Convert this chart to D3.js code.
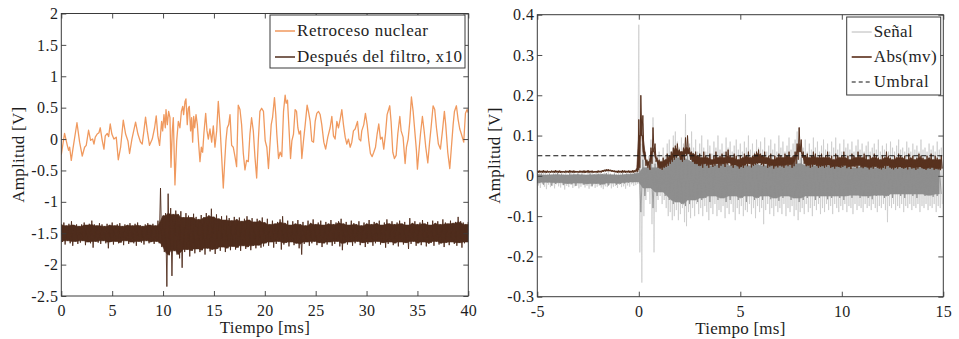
<!DOCTYPE html>
<html>
<head>
<meta charset="utf-8">
<script src="https://cdn.jsdelivr.net/npm/d3@7"></script>
<style>
  body { margin: 0; background: #fff; }
  svg { display: block; }
  text { font-family: "Liberation Serif", "Times New Roman", serif; fill: #1e1e1e; }
</style>
</head>
<body>
<svg id="chart" width="959" height="339"></svg>
<script>
// ---------- Left panel: recoil signal and filtered trace (x10) ----------
const leftXTicks = [0, 5, 10, 15, 20, 25, 30, 35, 40];
const leftYTicks = [-2.5, -2, -1.5, -1, -0.5, 0, 0.5, 1, 1.5, 2];

// Retroceso nuclear: time [ms] / amplitude [V] at the turning points
const recoilT = [0.00,0.32,0.59,0.72,0.82,0.98,1.14,1.54,1.80,2.06,2.29,2.45,2.68,2.88,3.08,3.21,3.34,3.53,3.70,3.83,4.02,4.19,4.32,4.52,4.65,4.81,4.97,5.17,5.40,5.60,5.83,6.09,6.32,6.55,6.71,6.94,7.30,7.53,7.79,7.95,8.12,8.28,8.45,8.67,8.94,9.17,9.33,9.49,9.66,
  9.86,9.96,10.09,10.22,10.29,10.42,10.55,10.68,10.78,10.91,11.01,11.17,11.34,11.50,11.66,11.80,11.93,12.02,12.16,12.25,12.38,12.48,12.58,12.71,12.81,12.91,13.01,13.11,13.24,13.37,13.50,13.63,13.76,13.89,14.02,14.19,14.32,14.45,14.61,14.78,14.94,15.10,15.27,15.43,15.59,15.76,15.92,16.05,16.18,16.31,16.45,16.58,16.74,16.90,17.07,17.23,17.39,17.56,17.72,17.89,18.05,18.21,18.38,18.54,18.70,18.87,19.03,19.20,19.36,19.52,19.69,
  19.87,20.04,20.20,20.36,20.63,20.76,20.95,21.08,21.18,21.35,21.51,21.67,21.84,22.00,22.10,22.23,22.39,22.53,22.66,22.82,22.98,23.12,23.25,23.38,23.51,23.64,23.80,23.97,24.16,24.29,24.46,24.62,24.79,24.95,25.11,25.28,25.44,25.60,25.80,25.98,26.19,26.42,26.59,26.75,26.91,27.08,27.24,27.40,27.57,27.73,27.90,28.06,28.22,28.39,28.55,28.71,28.88,29.11,29.27,29.43,29.53,
  29.73,29.89,30.06,30.22,30.38,30.55,30.71,30.88,31.04,31.20,31.37,31.53,31.69,31.86,32.02,32.28,32.41,32.58,32.74,32.91,33.07,33.27,33.40,33.59,33.79,33.92,34.09,34.25,34.41,34.58,34.74,34.90,35.00,35.13,35.30,35.49,35.66,35.82,36.02,36.18,36.34,36.54,36.70,36.87,37.06,37.26,37.46,37.65,37.78,37.98,38.18,38.34,38.51,38.64,38.83,39.00,39.16,39.32,39.55,39.72,39.88,40.00];
const recoilV = [-0.25,0.09,-0.10,-0.18,-0.13,-0.34,-0.16,0.26,-0.05,-0.27,-0.13,-0.10,0.14,-0.02,0.00,-0.08,0.03,0.08,0.10,0.18,-0.02,-0.16,0.05,0.09,0.04,0.24,0.08,0.00,0.03,-0.33,-0.13,0.30,0.08,-0.03,-0.23,0.00,0.27,0.08,-0.05,-0.08,0.13,0.35,0.13,-0.10,0.00,0.18,0.37,0.05,-0.10,
  0.28,0.13,0.39,0.18,0.47,0.23,0.44,0.34,-0.45,0.13,0.34,-0.73,-0.03,0.28,0.18,0.44,0.52,0.39,0.60,0.64,0.23,0.49,0.52,0.13,0.34,-0.05,0.36,0.18,0.39,0.23,-0.08,-0.36,-0.13,-0.21,0.10,0.41,0.13,0.00,0.16,-0.05,0.21,-0.13,0.13,0.60,0.23,-0.28,-0.78,-0.39,-0.03,0.18,0.23,0.39,-0.10,-0.13,-0.28,-0.44,0.54,0.47,0.23,-0.23,-0.49,-0.34,-0.36,0.08,0.34,0.13,-0.28,-0.62,-0.03,0.44,0.49,
  0.44,-0.03,-0.13,-0.47,0.23,0.34,0.66,0.39,0.08,-0.31,-0.21,-0.28,0.44,0.70,0.57,0.62,0.13,-0.31,-0.03,0.08,0.47,0.44,0.18,0.08,0.13,-0.31,-0.03,0.23,0.54,0.44,0.28,-0.03,-0.05,0.28,0.41,0.44,0.39,0.23,-0.05,-0.16,0.03,0.18,0.36,0.05,0.00,0.28,0.18,0.31,0.47,0.23,0.03,-0.08,0.00,-0.13,-0.05,0.13,0.16,0.28,0.00,-0.03,0.13,
  0.23,0.41,0.23,-0.03,-0.23,-0.28,-0.21,-0.13,0.08,0.24,0.00,0.03,-0.16,0.08,0.39,0.53,0.28,-0.21,-0.31,-0.26,0.08,0.36,0.13,0.03,-0.39,-0.13,0.00,0.28,0.67,0.44,0.13,-0.18,-0.48,-0.23,0.08,0.36,0.13,-0.13,-0.38,-0.08,0.18,0.53,0.47,0.18,-0.08,-0.16,0.13,0.44,0.23,-0.21,-0.47,-0.13,0.23,0.44,0.53,0.31,0.16,0.08,-0.05,0.41,0.47,0.42];

// Después del filtro (x10): upper / lower extent of the trace, 0.25 ms bins
const filtStep = 0.25;
const filtQuietStart = 0;
const filtQuietHi = [-1.36,-1.33,-1.38,-1.35,-1.31,-1.37,-1.36,-1.39,-1.36,-1.33,-1.37,-1.35,-1.30,-1.36,-1.38,-1.34,-1.36,-1.39,-1.35,-1.37,-1.33,-1.38,-1.36,-1.34,-1.39,-1.36,-1.37,-1.34,-1.38,-1.35,-1.33,-1.37,-1.39,-1.36,-1.34,-1.37,-1.35,-1.38];
const filtQuietLo = [-1.64,-1.68,-1.62,-1.66,-1.70,-1.63,-1.67,-1.65,-1.62,-1.69,-1.64,-1.66,-1.73,-1.63,-1.65,-1.67,-1.62,-1.66,-1.74,-1.64,-1.68,-1.63,-1.66,-1.65,-1.69,-1.62,-1.67,-1.64,-1.66,-1.70,-1.63,-1.65,-1.68,-1.62,-1.66,-1.64,-1.67,-1.63];
const filtBurstStart = 9.5;
const filtBurstHi = [-1.30,-0.78,-1.22,-1.18,-0.87,-1.10,-1.20,-1.14,-1.20,-1.15,-1.25,-1.18,-1.22,-1.25,-1.19,-1.24,-1.28,-1.21,-1.25,-1.18,-1.22,-1.11,-1.24,-1.20,-1.27,-1.23,-1.29,-1.22,-1.26,-1.30,-1.24,-1.28,-1.25,-1.31,-1.27,-1.23,-1.29,-1.26,-1.32,-1.27,-1.30,-1.25,
  -1.33,-1.27,-1.36,-1.30,-1.35,-1.32,-1.28,-1.23,-1.34,-1.30,-1.37,-1.31,-1.35,-1.29,-1.36,-1.32,-1.38,-1.30,-1.34,-1.28,-1.36,-1.33,-1.30,-1.37,-1.32,-1.35,-1.29,-1.36,-1.33,-1.31,-1.27,-1.35,-1.32,-1.37,-1.30,-1.34,-1.36,-1.31,-1.38,-1.33,
  -1.35,-1.29,-1.36,-1.32,-1.34,-1.30,-1.37,-1.33,-1.28,-1.35,-1.31,-1.36,-1.33,-1.30,-1.35,-1.32,-1.37,-1.26,-1.34,-1.31,-1.36,-1.33,-1.29,-1.35,-1.32,-1.37,-1.30,-1.34,-1.31,-1.36,-1.28,-1.33,-1.35,-1.30,-1.34,-1.32,-1.24,-1.31,-1.33,-1.36,-1.32];
const filtBurstLo = [-1.66,-1.72,-1.80,-2.35,-1.85,-2.18,-1.78,-1.84,-1.90,-2.05,-1.80,-1.76,-1.87,-1.78,-1.82,-1.75,-1.80,-1.77,-1.84,-1.74,-1.79,-1.76,-1.83,-1.75,-1.78,-1.72,-1.80,-1.74,-1.77,-1.71,-1.76,-1.73,-1.78,-1.70,-1.75,-1.72,-1.77,-1.70,-1.74,-1.69,-1.73,-1.71,
  -1.66,-1.70,-1.64,-1.73,-1.67,-1.63,-1.76,-1.68,-1.65,-1.71,-1.64,-1.69,-1.66,-1.74,-1.84,-1.67,-1.64,-1.70,-1.66,-1.63,-1.69,-1.65,-1.72,-1.66,-1.68,-1.64,-1.70,-1.67,-1.63,-1.71,-1.77,-1.66,-1.68,-1.64,-1.70,-1.66,-1.63,-1.69,-1.65,-1.72,
  -1.67,-1.64,-1.70,-1.66,-1.63,-1.68,-1.65,-1.73,-1.67,-1.64,-1.69,-1.66,-1.71,-1.64,-1.68,-1.65,-1.75,-1.67,-1.63,-1.70,-1.66,-1.69,-1.64,-1.71,-1.67,-1.65,-1.70,-1.63,-1.68,-1.66,-1.72,-1.65,-1.69,-1.64,-1.67,-1.70,-1.65,-1.73,-1.66,-1.64,-1.68];

const leftLegend = ["Retroceso nuclear", "Después del filtro, x10"];

// ---------- Right panel: raw signal, moving |mean| and threshold ----------
const rightXTicks = [-5, 0, 5, 10, 15];
const rightYTicks = [-0.3, -0.2, -0.1, 0, 0.1, 0.2, 0.3, 0.4];

// Señal: extreme excursions per 0.1 ms bin (before / after trigger)
const senStep = 0.1;
const senPreStart = -5;
const senPreHi = [0.006,0.010,0.004,0.008,0.012,0.005,0.007,0.003,0.009,0.006,0.011,0.004,0.007,0.005,0.009,0.003,0.008,0.006,0.010,0.004,0.007,0.005,0.009,0.006,0.003,0.008,0.005,0.010,0.004,0.007,0.006,0.009,0.004,0.008,0.005,0.011,0.006,0.003,0.008,0.005,0.009,0.006,0.012,0.004,0.007,0.005,0.010,0.006,0.008,0.012];
const senPreLo = [-0.024,-0.030,-0.020,-0.027,-0.033,-0.022,-0.028,-0.025,-0.031,-0.021,-0.026,-0.029,-0.023,-0.034,-0.025,-0.028,-0.022,-0.030,-0.026,-0.024,-0.031,-0.027,-0.023,-0.029,-0.025,-0.032,-0.026,-0.022,-0.030,-0.027,-0.024,-0.029,-0.033,-0.026,-0.028,-0.023,-0.031,-0.027,-0.025,-0.030,-0.022,-0.028,-0.026,-0.032,-0.024,-0.027,-0.021,-0.025,-0.023,-0.020];
const senPostStart = 0;
const senPostHi = [0.375,0.08,0.13,0.06,0.04,0.05,0.09,0.145,0.07,0.05,
  0.06,0.04,0.07,0.05,0.08,0.09,0.06,0.10,0.11,0.085,
  0.07,0.095,0.08,0.153,0.10,0.08,0.11,0.07,0.09,0.06,
  0.08,0.10,0.07,0.06,0.09,0.075,0.055,0.085,0.07,0.10,
  0.065,0.08,0.06,0.095,0.07,0.085,0.06,0.075,0.09,0.065,
  0.08,0.06,0.085,0.07,0.10,0.065,0.08,0.06,0.09,0.07,
  0.085,0.065,0.095,0.06,0.075,0.09,0.065,0.08,0.06,0.10,
  0.07,0.085,0.06,0.075,0.095,0.065,0.08,0.09,0.11,0.12,
  0.08,0.07,0.09,0.06,0.08,0.065,0.095,0.07,0.085,0.06,
  0.075,0.09,0.065,0.08,0.06,0.085,0.07,0.095,0.065,0.08,
  0.06,0.09,0.07,0.08,0.065,0.085,0.06,0.075,0.09,0.065,
  0.08,0.06,0.075,0.085,0.06,0.07,0.08,0.065,0.09,0.06,
  0.075,0.065,0.08,0.06,0.085,0.07,0.06,0.075,0.09,0.065,
  0.07,0.06,0.085,0.07,0.06,0.08,0.065,0.075,0.06,0.09,
  0.065,0.07,0.06,0.08,0.065,0.075,0.06,0.085,0.065,0.07];
const senPostLo = [-0.19,-0.265,-0.10,-0.06,-0.04,-0.07,-0.12,-0.19,-0.09,-0.06,
  -0.05,-0.07,-0.06,-0.08,-0.10,-0.09,-0.11,-0.10,-0.085,-0.11,
  -0.095,-0.08,-0.115,-0.125,-0.09,-0.105,-0.08,-0.10,-0.07,-0.095,
  -0.08,-0.10,-0.075,-0.09,-0.11,-0.08,-0.095,-0.07,-0.10,-0.085,
  -0.09,-0.075,-0.105,-0.08,-0.095,-0.07,-0.09,-0.11,-0.08,-0.095,
  -0.075,-0.10,-0.085,-0.09,-0.07,-0.095,-0.08,-0.105,-0.075,-0.09,
  -0.08,-0.12,-0.085,-0.07,-0.095,-0.08,-0.10,-0.075,-0.09,-0.08,
  -0.095,-0.07,-0.10,-0.08,-0.09,-0.075,-0.10,-0.085,-0.11,-0.09,
  -0.08,-0.095,-0.07,-0.09,-0.08,-0.10,-0.075,-0.085,-0.07,-0.095,
  -0.08,-0.09,-0.07,-0.085,-0.075,-0.095,-0.07,-0.08,-0.09,-0.075,
  -0.085,-0.07,-0.09,-0.075,-0.08,-0.095,-0.07,-0.085,-0.075,-0.08,
  -0.09,-0.07,-0.08,-0.075,-0.085,-0.07,-0.08,-0.09,-0.075,-0.08,
  -0.07,-0.085,-0.115,-0.075,-0.08,-0.07,-0.085,-0.075,-0.08,-0.07,
  -0.09,-0.075,-0.08,-0.07,-0.085,-0.075,-0.08,-0.07,-0.09,-0.075,
  -0.08,-0.07,-0.085,-0.075,-0.08,-0.07,-0.09,-0.075,-0.08,-0.07];

// Señal: dense core of the trace per 0.2 ms bin
const coreStep = 0.2;
const corePreHi = [0.004,0.006,0.002,0.005,0.003,0.007,0.004,0.002,0.006,0.003,0.005,0.004,0.002,0.006,0.003,0.005,0.004,0.007,0.003,0.005,0.002,0.006,0.004,0.005,0.007];
const corePreLo = [-0.018,-0.022,-0.016,-0.024,-0.020,-0.017,-0.023,-0.019,-0.021,-0.025,-0.018,-0.022,-0.020,-0.026,-0.019,-0.023,-0.021,-0.024,-0.018,-0.022,-0.020,-0.019,-0.017,-0.016,-0.015];
const corePostHi = [0.06,0.04,0.02,0.05,0.03,0.02,0.03,0.04,0.05,0.06,0.045,0.05,0.06,0.04,0.035,
  0.035,0.03,0.04,0.025,0.035,0.03,0.04,0.03,0.025,0.035,0.03,0.04,0.025,0.03,0.035,0.03,0.025,0.035,0.03,0.04,
  0.03,0.025,0.035,0.03,0.04,0.045,0.03,0.025,0.035,0.03,0.025,0.035,0.03,0.025,0.03,0.035,0.025,0.03,0.02,0.03,
  0.025,0.03,0.035,0.025,0.02,0.03,0.025,0.03,0.02,0.025,0.03,0.02,0.025,0.03,0.02,0.025,0.02,0.03,0.025,0.02];
const corePostLo = [-0.09,-0.05,-0.03,-0.08,-0.05,-0.04,-0.05,-0.06,-0.07,-0.065,-0.07,-0.075,-0.07,-0.06,-0.065,
  -0.06,-0.055,-0.065,-0.05,-0.06,-0.055,-0.065,-0.06,-0.05,-0.06,-0.055,-0.065,-0.05,-0.06,-0.055,-0.06,-0.05,-0.058,-0.055,-0.062,
  -0.055,-0.05,-0.06,-0.055,-0.065,-0.06,-0.055,-0.05,-0.06,-0.055,-0.05,-0.058,-0.055,-0.05,-0.055,-0.06,-0.05,-0.055,-0.048,-0.055,
  -0.05,-0.055,-0.058,-0.05,-0.048,-0.055,-0.05,-0.055,-0.045,-0.05,-0.055,-0.045,-0.05,-0.055,-0.045,-0.05,-0.048,-0.052,-0.05,-0.045];

// Abs(mv): upper / lower extent per 0.1 ms bin
const absPreHi = [0.012,0.013,0.012,0.014,0.012,0.013,0.011,0.013,0.012,0.014,0.012,0.013,0.012,0.011,0.013,0.012,0.014,0.012,0.013,0.012,0.011,0.013,0.012,0.013,0.012,0.014,0.012,0.013,0.011,0.012,0.013,0.012,0.014,0.015,0.016,0.016,0.015,0.014,0.013,0.012,0.013,0.012,0.014,0.013,0.012,0.013,0.012,0.014,0.013,0.015];
const absPreLo = [0.008,0.009,0.008,0.009,0.007,0.009,0.008,0.009,0.008,0.009,0.008,0.007,0.009,0.008,0.009,0.008,0.009,0.008,0.008,0.009,0.008,0.009,0.008,0.007,0.009,0.008,0.009,0.008,0.009,0.008,0.009,0.008,0.010,0.011,0.012,0.012,0.011,0.010,0.009,0.008,0.009,0.008,0.009,0.008,0.009,0.008,0.009,0.008,0.009,0.010];
const absPostHi = [0.14,0.20,0.15,0.06,0.04,0.035,0.07,0.12,0.08,0.045,
  0.04,0.035,0.045,0.04,0.055,0.05,0.06,0.07,0.075,0.08,
  0.065,0.06,0.07,0.095,0.10,0.07,0.06,0.055,0.06,0.05,
  0.055,0.045,0.06,0.05,0.045,0.055,0.04,0.05,0.06,0.045,
  0.05,0.055,0.045,0.06,0.065,0.05,0.045,0.055,0.05,0.04,
  0.05,0.045,0.055,0.05,0.06,0.045,0.05,0.055,0.06,0.065,
  0.055,0.05,0.06,0.045,0.05,0.055,0.04,0.05,0.045,0.055,
  0.05,0.045,0.055,0.05,0.06,0.045,0.05,0.06,0.08,0.12,
  0.09,0.06,0.05,0.055,0.045,0.05,0.06,0.055,0.045,0.05,
  0.055,0.045,0.05,0.06,0.045,0.05,0.04,0.055,0.05,0.045,
  0.05,0.06,0.045,0.05,0.04,0.055,0.05,0.045,0.06,0.05,
  0.045,0.055,0.05,0.04,0.05,0.045,0.055,0.05,0.045,0.04,
  0.05,0.045,0.06,0.05,0.045,0.04,0.05,0.045,0.055,0.05,
  0.045,0.05,0.04,0.055,0.045,0.05,0.04,0.045,0.055,0.05,
  0.045,0.04,0.05,0.045,0.055,0.04,0.05,0.045,0.04,0.05];
const absPostLo = [0.02,0.10,0.06,0.025,0.02,0.015,0.03,0.06,0.035,0.02,
  0.018,0.015,0.02,0.022,0.025,0.03,0.035,0.04,0.045,0.05,
  0.04,0.035,0.04,0.05,0.055,0.04,0.035,0.03,0.03,0.025,
  0.025,0.02,0.03,0.025,0.02,0.028,0.022,0.025,0.03,0.02,
  0.025,0.03,0.022,0.028,0.032,0.025,0.02,0.027,0.024,0.018,
  0.022,0.02,0.026,0.024,0.03,0.021,0.025,0.028,0.03,0.032,
  0.027,0.024,0.03,0.02,0.023,0.026,0.018,0.024,0.021,0.026,
  0.023,0.02,0.026,0.024,0.028,0.02,0.024,0.03,0.04,0.06,
  0.045,0.03,0.024,0.026,0.02,0.023,0.028,0.025,0.02,0.022,
  0.025,0.02,0.023,0.027,0.02,0.022,0.018,0.024,0.022,0.02,
  0.022,0.026,0.019,0.022,0.017,0.024,0.022,0.019,0.026,0.021,
  0.019,0.023,0.021,0.016,0.021,0.018,0.023,0.02,0.018,0.016,
  0.02,0.018,0.025,0.021,0.018,0.016,0.02,0.018,0.022,0.02,
  0.018,0.02,0.016,0.022,0.018,0.02,0.015,0.018,0.022,0.019,
  0.017,0.015,0.019,0.017,0.021,0.015,0.018,0.016,0.014,0.018];

const umbral = 0.05;
const rightLegend = ["Señal", "Abs(mv)", "Umbral"];

// ---------- colours ----------
const cRecoil = "#f0995e";
const cFilt = "#4f2d1d";
const cSenLight = "#c8c8c8";
const cSenCore = "#8e8e8e";
const cAbs = "#58321f";

// ---------- helpers ----------
const svg = d3.select("#chart");
const FS = 16;

// One record per bin (time, upper extent, lower extent)
function bins(t0, step, hi, lo) {
  return hi.map((h, i) => ({ t: t0 + i * step, hi: h, lo: lo[i], step }));
}
// Upper/lower extents alternate half a bin apart (thin spikes)
function zigzag(rows) {
  return rows.flatMap(r => [[r.t, r.hi], [r.t + r.step / 2, r.lo]]);
}
// Level the trace keeps returning to: the inner extent among neighbouring bins
function dense(rows) {
  return rows.map((r, i) => {
    const w = rows.slice(Math.max(0, i - 1), i + 2);
    return { t: r.t, hi: d3.min(w, d => d.hi), lo: d3.max(w, d => d.lo) };
  });
}

function panel(id, box, xDom, yDom, xTicks, yTicks) {
  const x = d3.scaleLinear().domain(xDom).range([box.x0, box.x1]);
  const y = d3.scaleLinear().domain(yDom).range([box.y1, box.y0]);
  const g = svg.append("g");
  svg.append("clipPath").attr("id", id)
    .append("rect").attr("x", box.x0).attr("y", box.y0)
    .attr("width", box.x1 - box.x0).attr("height", box.y1 - box.y0);
  const plot = g.append("g").attr("clip-path", `url(#${id})`);
  const fmt = d => String(d);
  const style = sel => {
    sel.select(".domain").remove();
    sel.selectAll(".tick line").attr("stroke", "#3a3a3a").attr("stroke-width", 0.9);
    sel.selectAll(".tick text").attr("font-size", FS).attr("fill", "#1e1e1e")
      .attr("font-family", "Liberation Serif, serif").attr("letter-spacing", "0.4px");
  };
  const axes = g.append("g");
  axes.append("g").attr("transform", `translate(0,${box.y1})`)
    .call(d3.axisBottom(x).tickValues(xTicks).tickFormat(fmt).tickSizeInner(-5).tickSizeOuter(0).tickPadding(9))
    .call(style);
  axes.append("g").attr("transform", `translate(0,${box.y0})`)
    .call(d3.axisTop(x).tickValues(xTicks).tickFormat("").tickSizeInner(-5).tickSizeOuter(0))
    .call(style);
  axes.append("g").attr("transform", `translate(${box.x0},0)`)
    .call(d3.axisLeft(y).tickValues(yTicks).tickFormat(fmt).tickSizeInner(-5).tickSizeOuter(0).tickPadding(3))
    .call(style);
  axes.append("g").attr("transform", `translate(${box.x1},0)`)
    .call(d3.axisRight(y).tickValues(yTicks).tickFormat("").tickSizeInner(-5).tickSizeOuter(0))
    .call(style);
  g.append("rect").attr("x", box.x0).attr("y", box.y0)
    .attr("width", box.x1 - box.x0).attr("height", box.y1 - box.y0)
    .attr("fill", "none").attr("stroke", "#3a3a3a").attr("stroke-width", 1);
  g.append("text").attr("x", (box.x0 + box.x1) / 2).attr("y", box.y1 + 37)
    .attr("text-anchor", "middle").attr("font-size", 17)
    .attr("textLength", 90).attr("lengthAdjust", "spacing").text("Tiempo [ms]");
  g.append("text")
    .attr("transform", `translate(${box.x0 - 37},${(box.y0 + box.y1) / 2}) rotate(-90)`)
    .attr("text-anchor", "middle").attr("font-size", 17)
    .attr("textLength", 96).attr("lengthAdjust", "spacing").text("Amplitud [V]");
  return { x, y, g, plot, axes };
}

function legend(g, lb, items) {
  const lg = g.append("g");
  lg.append("rect").attr("x", lb.x).attr("y", lb.y).attr("width", lb.w).attr("height", lb.h)
    .attr("fill", "#fff").attr("stroke", "#3a3a3a").attr("stroke-width", 1);
  items.forEach((it, i) => {
    const yy = lb.y + lb.first + i * lb.gap;
    lg.append("line").attr("x1", lb.x + 5).attr("x2", lb.x + 25).attr("y1", yy).attr("y2", yy)
      .attr("stroke", it.color).attr("stroke-width", it.width)
      .attr("stroke-dasharray", it.dash || null);
    lg.append("text").attr("x", lb.x + 27).attr("y", yy + 5).attr("font-size", 17)
      .attr("textLength", it.len).attr("lengthAdjust", "spacing").text(it.label);
  });
}

// Dense body of a trace plus its individual excursions, in one colour
function denseTrace(P, rows, color, zigWidth) {
  const area = d3.area().x(d => P.x(d.t)).y0(d => P.y(d.lo)).y1(d => P.y(d.hi));
  const line = d3.line().x(d => P.x(d[0])).y(d => P.y(d[1]));
  P.plot.append("path").datum(dense(rows))
    .attr("d", area).attr("fill", color).attr("stroke", color).attr("stroke-width", 0.6);
  P.plot.append("path").datum(zigzag(rows))
    .attr("d", line).attr("fill", "none").attr("stroke", color).attr("stroke-width", zigWidth);
}

// ---------- left panel ----------
const L = panel("clipL", { x0: 61.3, x1: 468.3, y0: 13.5, y1: 296 }, [0, 40], [-2.5, 2], leftXTicks, leftYTicks);
const lineL = d3.line().x(d => L.x(d[0])).y(d => L.y(d[1]));

L.plot.append("path")
  .datum(recoilT.map((t, i) => [t, recoilV[i]]))
  .attr("d", lineL).attr("fill", "none").attr("stroke", cRecoil)
  .attr("stroke-width", 1.3).attr("stroke-linejoin", "round");

denseTrace(L,
  bins(filtQuietStart, filtStep, filtQuietHi, filtQuietLo)
    .concat(bins(filtBurstStart, filtStep, filtBurstHi, filtBurstLo)),
  cFilt, 0.9);

legend(L.g, { x: 270, y: 15, w: 195, h: 53, first: 16, gap: 26 }, [
  { label: leftLegend[0], color: cRecoil, width: 1.5, len: 131 },
  { label: leftLegend[1], color: cFilt, width: 1.5, len: 165 }
]);

// ---------- right panel ----------
const R = panel("clipR", { x0: 537.3, x1: 943.3, y0: 14.7, y1: 296.7 }, [-5, 15], [-0.3, 0.4], rightXTicks, rightYTicks);
const lineR = d3.line().x(d => R.x(d[0])).y(d => R.y(d[1]));

const senRows = bins(senPreStart, senStep, senPreHi, senPreLo)
  .concat(bins(senPostStart, senStep, senPostHi, senPostLo));
R.plot.append("path").datum(zigzag(senRows))
  .attr("d", lineR).attr("fill", "none").attr("stroke", cSenLight).attr("stroke-width", 0.7);

denseTrace(R,
  bins(senPreStart, coreStep, corePreHi, corePreLo)
    .concat(bins(senPostStart, coreStep, corePostHi, corePostLo)),
  cSenCore, 0.8);
denseTrace(R,
  bins(senPreStart, senStep, absPreHi, absPreLo)
    .concat(bins(senPostStart, senStep, absPostHi, absPostLo)),
  cAbs, 1.0);

R.plot.append("path").datum([[-5, umbral], [15, umbral]])
  .attr("d", lineR).attr("fill", "none").attr("stroke", "#111")
  .attr("stroke-width", 1.1).attr("stroke-dasharray", "5,3");

legend(R.g, { x: 846.7, y: 17, w: 94, h: 78, first: 15, gap: 25 }, [
  { label: rightLegend[0], color: "#b8b8b8", width: 1, len: 39 },
  { label: rightLegend[1], color: "#7a5646", width: 2, len: 63 },
  { label: rightLegend[2], color: "#111", width: 1.1, dash: "4,3", len: 55 }
]);
</script>
</body>
</html>
